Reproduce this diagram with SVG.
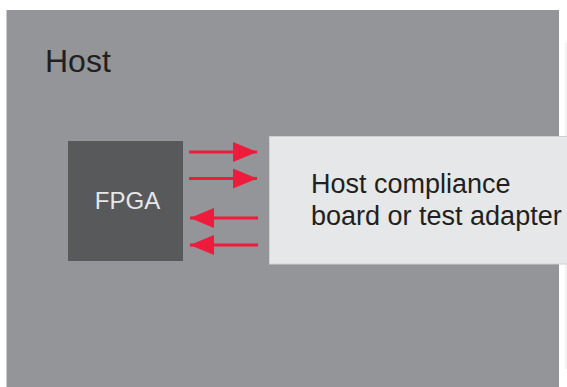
<svg xmlns="http://www.w3.org/2000/svg" width="567" height="387" viewBox="0 0 567 387">
<style>
.lbl{font-family:"Liberation Sans",Arial,sans-serif;fill:#231f20}
.arr{stroke:#ed1c3c;stroke-width:2.8;fill:none}
</style>
<defs>
<marker id="ah" viewBox="0 0 24 20" refX="24" refY="10" markerWidth="24" markerHeight="20" markerUnits="userSpaceOnUse" orient="auto">
<path d="M0,0 L24,10 L0,20 Z" fill="#ed1c3c"/>
</marker>
</defs>
<rect width="567" height="387" fill="#ffffff"/>
<g id="host">
<rect x="6.5" y="10" width="552.5" height="377" fill="#939598"/>
<text class="lbl" x="45" y="72" font-size="32">Host</text>
</g>
<line x1="566" y1="43" x2="566" y2="369" stroke="#e6e7e8" stroke-width="1"/>
<g id="adapter">
<rect x="269.5" y="136.5" width="300" height="127.5" fill="#e6e7e8" stroke="#cfd0d2" stroke-width="1"/>
<text class="lbl" x="311" y="193" font-size="27">Host compliance</text>
<text class="lbl" x="311" y="225" font-size="27">board or test adapter</text>
</g>
<g id="fpga">
<rect x="68" y="141" width="115" height="120" fill="#58595b"/>
<text x="127.5" y="209" font-size="24" text-anchor="middle" font-family="Liberation Sans,Arial,sans-serif" fill="#e6e7e8">FPGA</text>
</g>
<g id="connectors">
<line class="arr" x1="189" y1="152" x2="257" y2="152" marker-end="url(#ah)"/>
<line class="arr" x1="189" y1="178.5" x2="257" y2="178.5" marker-end="url(#ah)"/>
<line class="arr" x1="258" y1="218" x2="190" y2="218" marker-end="url(#ah)"/>
<line class="arr" x1="258" y1="245" x2="190" y2="245" marker-end="url(#ah)"/>
</g>
</svg>
